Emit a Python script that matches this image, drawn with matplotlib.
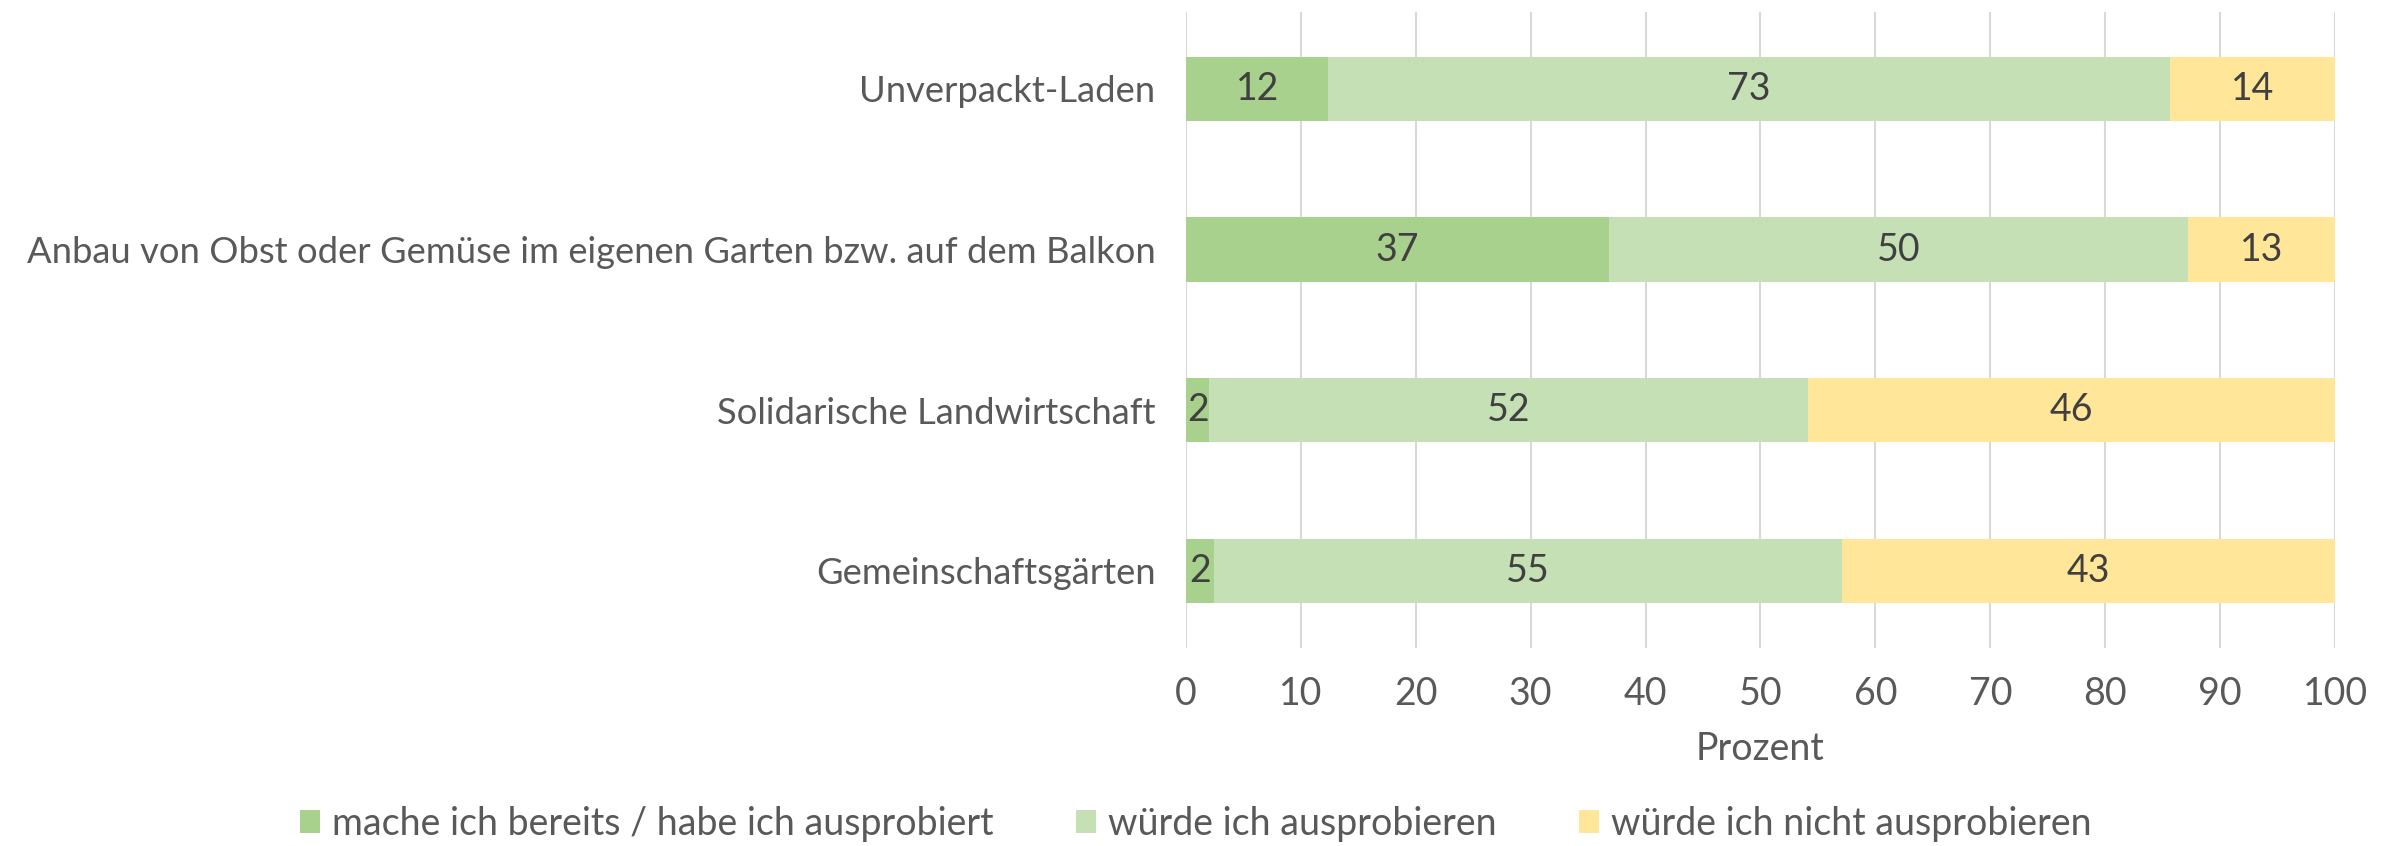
import matplotlib.pyplot as plt
import numpy as np

plt.rcParams['font.family'] = ['Lato', 'DejaVu Sans']

categories = ['Unverpackt-Laden',
              'Anbau von Obst oder Gemüse im eigenen Garten bzw. auf dem Balkon',
              'Solidarische Landwirtschaft',
              'Gemeinschaftsgärten']
series_names = ['mache ich bereits / habe ich ausprobiert',
                'würde ich ausprobieren',
                'würde ich nicht ausprobieren']
bereits = [12.4, 36.8, 2.05, 2.4]
ausprobieren = [73.2, 50.4, 52.05, 54.7]
nicht = [14.4, 12.8, 45.9, 42.9]
labels_bereits = ['12', '37', '2', '2']
labels_ausprobieren = ['73', '50', '52', '55']
labels_nicht = ['14', '13', '46', '43']

colors = ['#A9D18E', '#C5E0B4', '#FFE699']
text_col = '#595959'
fs = 27

fig = plt.figure(figsize=(23.91, 8.46), dpi=100)
ax = fig.add_axes([0.496, 0.234, 0.4806, 0.752])

y = np.arange(len(categories))
left = np.zeros(len(categories))
for vals, labs, name, c in zip([bereits, ausprobieren, nicht],
                                [labels_bereits, labels_ausprobieren, labels_nicht],
                                series_names, colors):
    bars = ax.barh(y, vals, left=left, height=0.4, color=c, label=name, zorder=3)
    ax.bar_label(bars, labels=labs, label_type='center', fontsize=fs, color='#404040')
    left = left + np.array(vals)

ax.set_xlim(0, 100)
ax.set_ylim(3.48, -0.48)
ax.set_xticks(range(0, 101, 10))
ax.set_yticks(y)
ax.set_yticklabels(categories)
ax.tick_params(axis='both', length=0, labelsize=fs, labelcolor=text_col)
ax.tick_params(axis='y', labelsize=26.2, pad=22)
ax.tick_params(axis='x', pad=20)
ax.grid(axis='x', color='#D9D9D9', linewidth=1.5, zorder=0)
for s in ax.spines.values():
    s.set_visible(False)
ax.set_xlabel('Prozent', fontsize=fs, color=text_col, labelpad=14)

fig.legend(loc='lower center', ncol=3, frameon=False, fontsize=fs,
           handlelength=0.55, handleheight=0.55, handletextpad=0.3,
           columnspacing=2.2, bbox_to_anchor=(0.5, -0.035), labelcolor=text_col)

fig.savefig('out.png', dpi=100)
